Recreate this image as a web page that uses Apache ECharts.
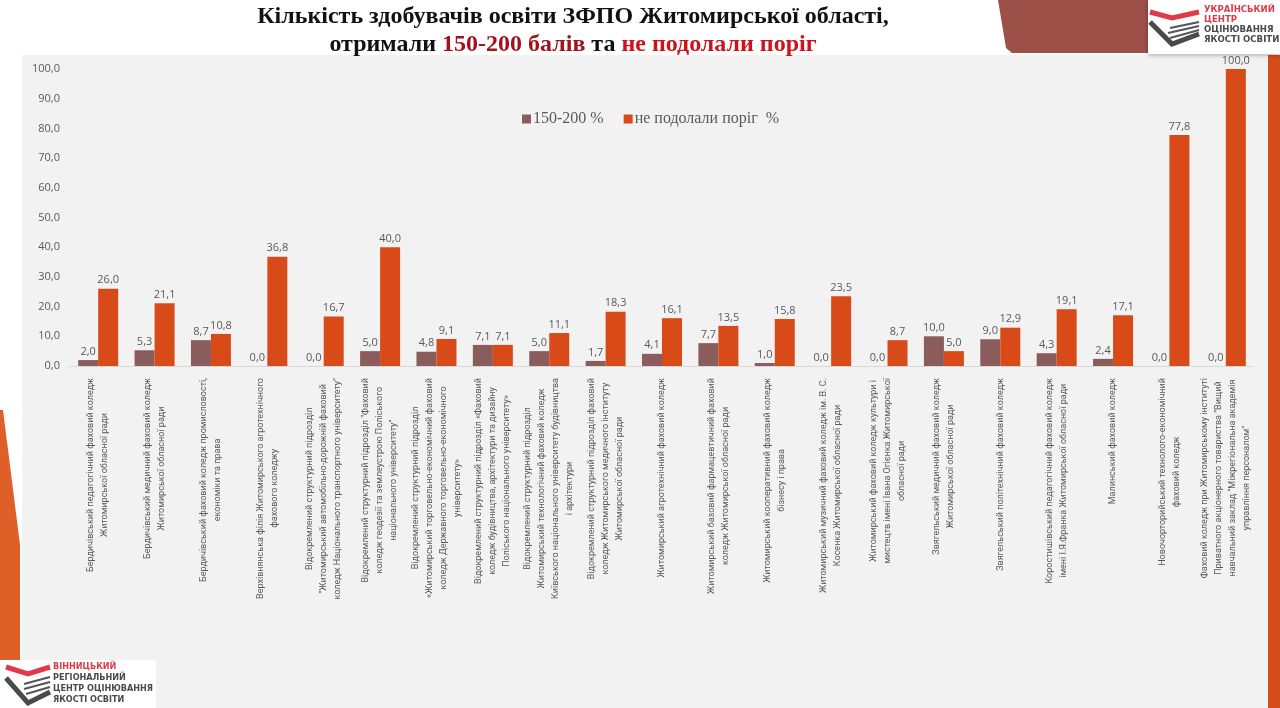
<!DOCTYPE html>
<html>
<head>
<meta charset="utf-8">
<script src="https://cdn.jsdelivr.net/npm/echarts@6/dist/echarts.min.js"></script>
<style>
html,body{margin:0;padding:0;background:#ffffff;}
#chart{width:1280px;height:708px;}
</style>
</head>
<body>
<div id="chart"></div>
<script>
var categories = [
  "Бердичівський педагогічний фаховий коледж\nЖитомирської обласної ради",
  "Бердичівський медичний фаховий коледж\nЖитомирської обласної ради",
  "Бердичівський фаховий коледж промисловості,\nекономіки та права",
  "Верхівнянська філія Житомирського агротехнічного\nфахового коледжу",
  "Відокремлений структурний підрозділ\n\"Житомирський автомобільно-дорожній фаховий\nколедж Національного транспортного університету\"",
  "Відокремлений структурний підрозділ \"Фаховий\nколедж геодезії та землеустрою Поліського\nнаціонального університету\"",
  "Відокремлений структурний підрозділ\n«Житомирський торговельно-економічний фаховий\nколедж Державного торговельно-економічного\nуніверситету»",
  "Відокремлений структурний підрозділ «Фаховий\nколедж будівництва, архітектури та дизайну\nПоліського національного університету»",
  "Відокремлений структурний підрозділ\nЖитомирський технологічний фаховий коледж\nКиївського національного університету будівництва\nі архітектури",
  "Відокремлений структурний підрозділ фаховий\nколедж Житомирського медичного інституту\nЖитомирської обласної ради",
  "Житомирський агротехнічний фаховий коледж",
  "Житомирський базовий фармацевтичний фаховий\nколедж Житомирської обласної ради",
  "Житомирський кооперативний фаховий коледж\nбізнесу і права",
  "Житомирський музичний фаховий коледж ім. В. С.\nКосенка Житомирської обласної ради",
  "Житомирський фаховий коледж культури і\nмистецтв імені Івана Огієнка Житомирської\nобласної ради",
  "Звягельський медичний фаховий коледж\nЖитомирської обласної ради",
  "Звягельський політехнічний фаховий коледж",
  "Коростишівський педагогічний фаховий коледж\nімені І.Я.Франка Житомирської обласної ради",
  "Малинський фаховий коледж",
  "Новочорторийський технолого-економічний\nфаховий коледж",
  "Фаховий коледж при Житомирському інституті\nПриватного акціонерного товариства \"Вищий\nнавчальний заклад \"Міжрегіональна академія\nуправління персоналом\""
];
var seriesNames = ["150-200 %", "не подолали поріг  %"];
var values150_200 = [2.0, 5.3, 8.7, 0.0, 0.0, 5.0, 4.8, 7.1, 5.0, 1.7, 4.1, 7.7, 1.0, 0.0, 0.0, 10.0, 9.0, 4.3, 2.4, 0.0, 0.0];
var valuesNotPassed = [26.0, 21.1, 10.8, 36.8, 16.7, 40.0, 9.1, 7.1, 11.1, 18.3, 16.1, 13.5, 15.8, 23.5, 8.7, 5.0, 12.9, 19.1, 17.1, 77.8, 100.0];
var yTicks = {min: 0, max: 100, interval: 10};

var fmt = function (v) { return Number(v).toFixed(1).replace('.', ','); };
var labelColor = '#595959';

var chart = echarts.init(document.getElementById('chart'));
var option = {
  backgroundColor: '#ffffff',
  animation: false,
  title: {
    left: 568,
    top: -2,
    textAlign: 'center',
    text: '{b|Кількість здобувачів освіти ЗФПО Житомирської області,}\n{b|отримали }{r1|150-200 балів}{b| та }{r2|не подолали поріг}',
    textStyle: {
      rich: {
        b: {fontFamily: 'Liberation Serif', fontWeight: 'bold', fontSize: 24, color: '#111111', lineHeight: 28},
        r1: {fontFamily: 'Liberation Serif', fontWeight: 'bold', fontSize: 24, color: '#a3121c', lineHeight: 28},
        r2: {fontFamily: 'Liberation Serif', fontWeight: 'bold', fontSize: 24, color: '#d0101a', lineHeight: 28}
      }
    }
  },
  graphic: [
    {type: 'rect', z: -10, silent: true, shape: {x: 22, y: 55, width: 1246, height: 653}, style: {fill: '#f2f2f2'}},
    {type: 'polygon', z: -9, silent: true, shape: {points: [[0, 410], [3, 410], [20, 545], [20, 662], [0, 662]]}, style: {fill: '#de5f28'}},
    {type: 'rect', z: -9, silent: true, shape: {x: 1268, y: 55, width: 12, height: 653}, style: {fill: '#d64b1b'}},
    {type: 'polygon', z: -9, silent: true, shape: {points: [[998, 0], [1150, 0], [1150, 53], [1012, 53], [1006, 48]]}, style: {fill: '#9d5047'}},
    {type: 'rect', z: 10, silent: true, shape: {x: 1148, y: 0, width: 132, height: 54}, style: {fill: '#ffffff', shadowBlur: 4, shadowColor: 'rgba(0,0,0,0.35)', shadowOffsetY: 1}},
    {type: 'polyline', z: 11, silent: true, shape: {points: [[1150, 12], [1172, 18], [1190, 14], [1199, 12]]}, style: {stroke: '#e03a48', lineWidth: 5, fill: null}},
    {type: 'polyline', z: 11, silent: true, shape: {points: [[1150, 22], [1172, 44], [1199, 34]]}, style: {stroke: '#4a4a4a', lineWidth: 5, fill: null}},
    {type: 'polyline', z: 11, silent: true, shape: {points: [[1170, 28], [1199, 22]]}, style: {stroke: '#555555', lineWidth: 2, fill: null}},
    {type: 'polyline', z: 11, silent: true, shape: {points: [[1168, 33], [1199, 26]]}, style: {stroke: '#555555', lineWidth: 2, fill: null}},
    {type: 'polyline', z: 11, silent: true, shape: {points: [[1170, 38], [1199, 30]]}, style: {stroke: '#555555', lineWidth: 2, fill: null}},
    {type: 'text', z: 11, silent: true, left: 1204, top: 5, style: {text: 'УКРАЇНСЬКИЙ\nЦЕНТР', fill: '#e03a48', font: 'bold 9.5px "DejaVu Sans Condensed", "DejaVu Sans"', lineHeight: 10}},
    {type: 'text', z: 11, silent: true, left: 1204, top: 25, style: {text: 'ОЦІНЮВАННЯ\nЯКОСТІ ОСВІТИ', fill: '#4a4a4a', font: 'bold 9.5px "DejaVu Sans Condensed", "DejaVu Sans"', lineHeight: 10}},
    {type: 'rect', z: 10, silent: true, shape: {x: 0, y: 660, width: 156, height: 48}, style: {fill: '#ffffff'}},
    {type: 'polyline', z: 11, silent: true, shape: {points: [[6, 667], [28, 674], [50, 667]]}, style: {stroke: '#e03a48', lineWidth: 5, fill: null}},
    {type: 'polyline', z: 11, silent: true, shape: {points: [[6, 678], [28, 703], [50, 692]]}, style: {stroke: '#4a4a4a', lineWidth: 5, fill: null}},
    {type: 'polyline', z: 11, silent: true, shape: {points: [[24, 684], [50, 677]]}, style: {stroke: '#555555', lineWidth: 2, fill: null}},
    {type: 'polyline', z: 11, silent: true, shape: {points: [[24, 689], [50, 682]]}, style: {stroke: '#555555', lineWidth: 2, fill: null}},
    {type: 'polyline', z: 11, silent: true, shape: {points: [[26, 694], [50, 687]]}, style: {stroke: '#555555', lineWidth: 2, fill: null}},
    {type: 'text', z: 11, silent: true, left: 53, top: 661, style: {text: 'ВІННИЦЬКИЙ', fill: '#e03a48', font: 'bold 9px "DejaVu Sans Condensed", "DejaVu Sans"', lineHeight: 11}},
    {type: 'text', z: 11, silent: true, left: 53, top: 672, style: {text: 'РЕГІОНАЛЬНИЙ\nЦЕНТР ОЦІНЮВАННЯ\nЯКОСТІ ОСВІТИ', fill: '#4a4a4a', font: 'bold 9px "DejaVu Sans Condensed", "DejaVu Sans"', lineHeight: 11}}
  ],
  legend: {
    left: 517,
    top: 106,
    icon: 'rect',
    itemWidth: 9,
    itemHeight: 9,
    itemGap: 20,
    textStyle: {fontFamily: 'Liberation Serif', fontSize: 16, color: labelColor, padding: [0, 0, 0, -3]},
    data: seriesNames
  },
  grid: {left: 70, right: 26, top: 69, bottom: 342, containLabel: false},
  xAxis: {
    type: 'category',
    data: categories,
    axisLine: {show: true, lineStyle: {color: '#d9d9d9', width: 1}},
    axisTick: {show: false},
    axisLabel: {
      interval: 0,
      rotate: 90,
      margin: 12,
      formatter: function (v) {
        return v.split('\n').map(function (l) { return '{c|' + l + '}'; }).join('\n');
      },
      rich: {
        c: {align: 'center', fontFamily: 'Roboto', fontSize: 9, color: labelColor, lineHeight: 14}
      }
    }
  },
  yAxis: {
    type: 'value',
    min: yTicks.min,
    max: yTicks.max,
    interval: yTicks.interval,
    splitLine: {show: false},
    axisLine: {show: false},
    axisTick: {show: false},
    axisLabel: {formatter: fmt, fontFamily: 'Open Sans', fontSize: 11, color: labelColor, margin: 10}
  },
  series: [
    {
      name: seriesNames[0],
      type: 'bar',
      data: values150_200,
      barWidth: 20,
      barGap: '0%',
      itemStyle: {color: '#8a5c5c'},
      label: {show: true, position: 'top', distance: 3, formatter: function (p) { return fmt(p.value); }, fontFamily: 'Open Sans', fontSize: 11, color: labelColor}
    },
    {
      name: seriesNames[1],
      type: 'bar',
      data: valuesNotPassed,
      barWidth: 20,
      barGap: '0%',
      itemStyle: {color: '#d84b18'},
      label: {show: true, position: 'top', distance: 3, formatter: function (p) { return fmt(p.value); }, fontFamily: 'Open Sans', fontSize: 11, color: labelColor}
    }
  ]
};
chart.setOption(option);
</script>
</body>
</html>
